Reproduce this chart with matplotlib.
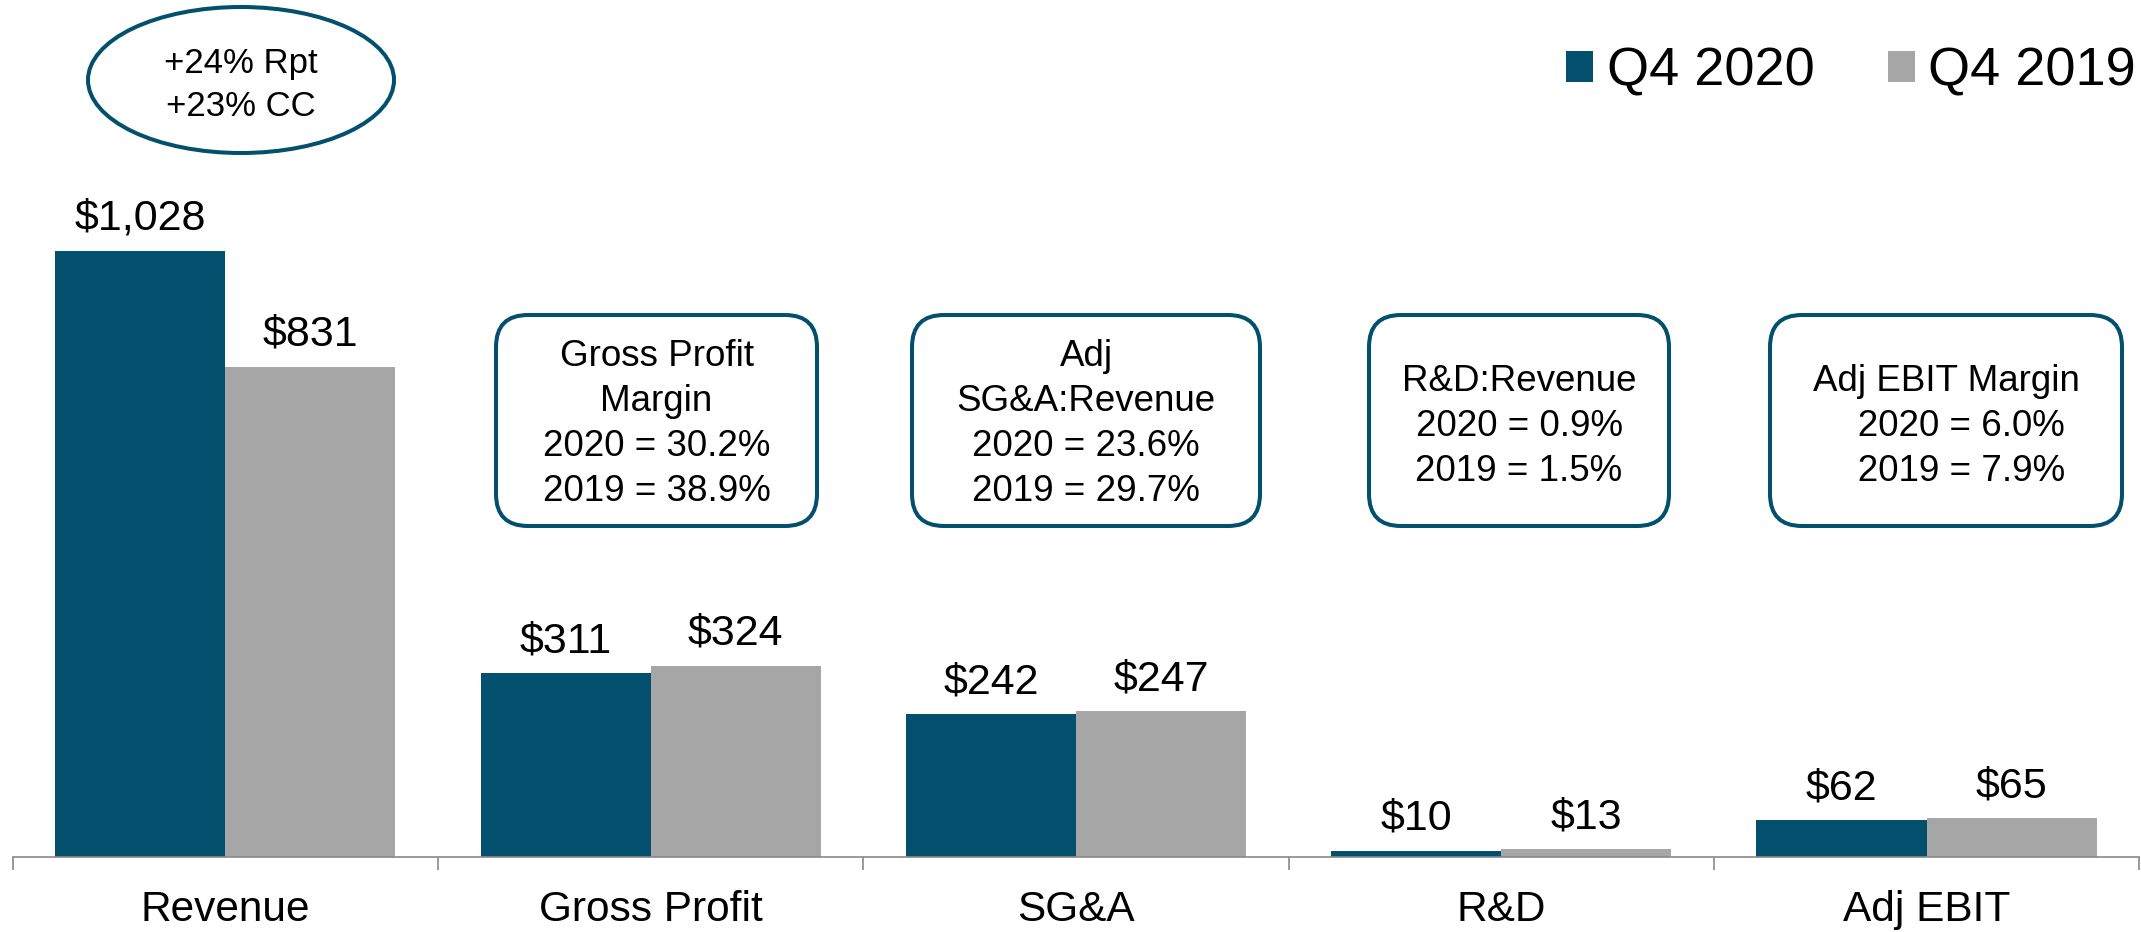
import numpy as np
import matplotlib
matplotlib.use('Agg')
import matplotlib.pyplot as plt
from matplotlib.patches import FancyBboxPatch, Ellipse

# chart data
categories = ['Revenue', 'Gross Profit', 'SG&A', 'R&D', 'Adj EBIT']
q4_2020 = [1028, 311, 242, 10, 62]
q4_2019 = [831, 324, 247, 13, 65]
series_names = ['Q4 2020', 'Q4 2019']

# callout texts
growth_note = ['+24% Rpt', '+23% CC']
ratio_notes = [
    ['Gross Profit', 'Margin', '2020 = 30.2%', '2019 = 38.9%'],
    ['Adj', 'SG&A:Revenue', '2020 = 23.6%', '2019 = 29.7%'],
    ['R&D:Revenue', '2020 = 0.9%', '2019 = 1.5%'],
    ['Adj EBIT Margin', '   2020 = 6.0%', '   2019 = 7.9%'],
]

blue = '#034F6E'
gray = '#A6A6A6'
axis_gray = '#898989'

plt.rcParams['font.family'] = ['Liberation Sans', 'DejaVu Sans']

W, H = 2141, 932
fig = plt.figure(figsize=(W / 100, H / 100), dpi=100)

# main bar axes
ax = fig.add_axes([12.7 / W, 75.3 / H, 2126.5 / W, 856.7 / H])
x = np.arange(len(categories))
b1 = ax.bar(x - 0.2, q4_2020, 0.4, color=blue, label=series_names[0])
b2 = ax.bar(x + 0.2, q4_2019, 0.4, color=gray, label=series_names[1])
ax.set_xlim(-0.5, len(categories) - 0.5)
ax.set_ylim(0, 1453)

# dollar labels above the bars
for bars, vals in [(b1, q4_2020), (b2, q4_2019)]:
    for rect, v in zip(bars, vals):
        ax.annotate('$' + format(v, ','), (rect.get_x() + rect.get_width() / 2, v),
                    xytext=(0, 15), textcoords='offset points',
                    ha='center', va='baseline', fontsize=31)

for s in ['top', 'right', 'left']:
    ax.spines[s].set_visible(False)
ax.spines['bottom'].set_color(axis_gray)
ax.spines['bottom'].set_linewidth(1.2)
ax.set_yticks([])
ax.set_xticks(np.arange(len(categories) + 1) - 0.5)
ax.set_xticklabels([])
ax.tick_params(axis='x', which='major', length=9.5, width=1.2, color=axis_gray)
ax.set_xticks(x, minor=True)
ax.set_xticklabels(categories, minor=True, fontsize=30.5)
ax.tick_params(axis='x', which='minor', length=0, pad=24)

# overlay in pixel coords for the callouts
ov = fig.add_axes([0, 0, 1, 1], facecolor='none')
ov.set_xlim(0, W)
ov.set_ylim(H, 0)
ov.axis('off')

ov.add_patch(Ellipse((241, 80), 306, 146, fill=False, edgecolor=blue, linewidth=2.9))
for i, line in enumerate(growth_note):
    ov.text(241, 73 + i * 43, line, ha='center', va='baseline', fontsize=25)

box_left = [496, 912, 1369, 1770]
box_right = [817, 1260, 1669, 2122]
box_top, box_bottom = 315, 526
for lines, l, r in zip(ratio_notes, box_left, box_right):
    ov.add_patch(FancyBboxPatch((l, box_top), r - l, box_bottom - box_top,
                                boxstyle='round,pad=0,rounding_size=32',
                                fill=False, edgecolor=blue, linewidth=2.9))
    first = 366 if len(lines) == 4 else 391
    for i, line in enumerate(lines):
        ov.text((l + r) / 2, first + i * 45, line, ha='center', va='baseline', fontsize=26.5)

fig.legend(handles=[b1, b2], loc='center right', bbox_to_anchor=(2136 / W, 1 - 72 / H),
           ncol=2, frameon=False, fontsize=39, handlelength=0.5, handleheight=0.5,
           handletextpad=0.25, columnspacing=1.35, borderpad=0, borderaxespad=0)

fig.savefig('out.png', dpi=100)
